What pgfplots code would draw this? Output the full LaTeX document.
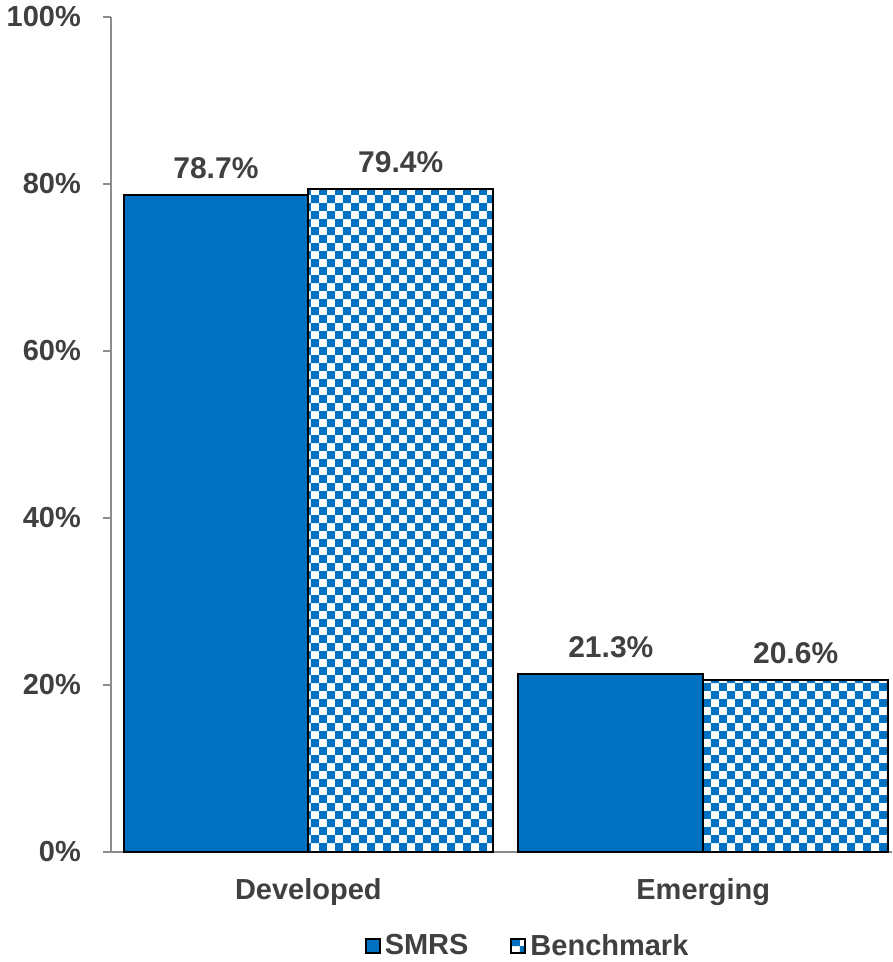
\documentclass[border=0pt]{standalone}
\usepackage{pgfplots}
\pgfplotsset{compat=1.18}
\usepackage{fontspec}
\setmainfont{Liberation Sans}
\usetikzlibrary{patterns}
\definecolor{barblue}{HTML}{0070C0}
\definecolor{txt}{HTML}{404040}
\definecolor{axgray}{HTML}{8C8C8C}
\pgfdeclarepatternformonly{checker}{\pgfpointorigin}{\pgfpoint{8pt}{8pt}}{\pgfpoint{8pt}{8pt}}{%
  \pgfpathrectangle{\pgfpointorigin}{\pgfpoint{4pt}{4pt}}%
  \pgfpathrectangle{\pgfpoint{4pt}{4pt}}{\pgfpoint{4pt}{4pt}}%
  \pgfusepath{fill}}
\begin{document}
\begin{tikzpicture}
\begin{axis}[
  scale only axis,
  width=390.5pt, height=417.5pt,
  xmin=-0.5, xmax=1.477,
  ymin=0, ymax=100,
  axis x line=bottom, axis y line=left,
  axis line style={-, draw=axgray, line width=1pt},
  ytick={0,20,40,60,80,100},
  yticklabel={\pgfmathprintnumber{\tick}\%},
  yticklabel style={font=\fontsize{14.5}{17}\selectfont\bfseries, text=txt, xshift=-7.5pt},
  /pgf/number format/assume math mode=true,
  xtick={0,1},
  xticklabels={Developed, Emerging},
  xticklabel style={font=\fontsize{14.5}{17}\selectfont\bfseries, text=txt, yshift=-6pt},
  major x tick style={draw=none},
  extra x ticks={-0.5,0.5,1.5},
  extra x tick labels={},
  extra x tick style={major tick length=4pt, tick style={draw=axgray, line width=1pt}, tick align=outside},
  tick align=outside,
  major tick length=4pt,
  tick style={draw=axgray, line width=1pt},
  ybar, bar width=0.468,
  nodes near coords={\pgfmathprintnumber[fixed,precision=1,fixed zerofill]{\pgfplotspointmeta}\%},
  nodes near coords style={font=\fontsize{15}{18}\selectfont\bfseries, text=txt, yshift=4pt},
  legend columns=2,
  legend style={draw=none, inner sep=0pt, at={(0.535,-0.113)}, anchor=center,
    font=\fontsize{14.5}{17}\selectfont\bfseries, text=txt,
    /tikz/every even column/.append style={column sep=19pt}},
  legend image code/.code={\draw[#1] (0pt,-3.5pt) rectangle (7pt,3.5pt);},
  clip=false,
]
\addplot+[bar shift=-0.234, fill=barblue, draw=black, line width=1pt, mark=none]
  coordinates {(0,78.7) (1,21.3)};
\addplot+[bar shift=0.234, pattern=checker, pattern color=barblue, draw=black, line width=1pt, mark=none]
  coordinates {(0,79.4) (1,20.6)};
\legend{SMRS, Benchmark}
\end{axis}
\end{tikzpicture}
\end{document}
